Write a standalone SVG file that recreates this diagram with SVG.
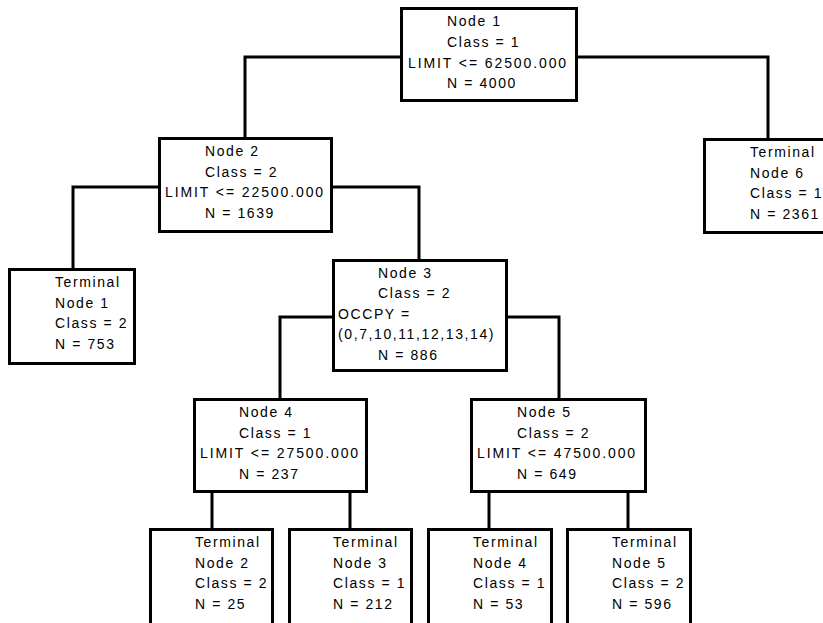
<svg xmlns="http://www.w3.org/2000/svg" width="823" height="623" viewBox="0 0 823 623">
<style>
rect.box{fill:#fff;stroke:#000;stroke-width:3}
.conn path{fill:none;stroke:#000;stroke-width:3;stroke-linejoin:miter;stroke-linecap:square}
text{font-family:"Liberation Sans",Arial,sans-serif;font-size:14px;fill:#000;letter-spacing:1.6px}
text.long{letter-spacing:1.9px}
</style>
<rect x="0" y="0" width="823" height="623" fill="#fff"/>
<g class="conn" id="connectors">
<path d="M400,57 H245 V137"/>
<path d="M578,57 H768 V138"/>
<path d="M158,187 H73 V268"/>
<path d="M333,187 H419 V259"/>
<path d="M332,317 H280 V398"/>
<path d="M508,317 H559 V398"/>
<path d="M212,493 V528"/>
<path d="M350,493 V528"/>
<path d="M489,493 V528"/>
<path d="M628,493 V528"/>
</g>
<g id="node1">
<rect class="box" x="401.5" y="8.5" width="175" height="92"/>
<text x="447" y="26">Node 1</text>
<text x="447" y="47">Class = 1</text>
<text class="long" x="408" y="68">LIMIT &lt;= 62500.000</text>
<text x="447" y="88">N = 4000</text>
</g>
<g id="node2">
<rect class="box" x="159.5" y="138.5" width="172" height="93"/>
<text x="205" y="156">Node 2</text>
<text x="205" y="177">Class = 2</text>
<text class="long" x="165" y="197">LIMIT &lt;= 22500.000</text>
<text x="205" y="218">N = 1639</text>
</g>
<g id="terminal6">
<rect class="box" x="704.5" y="139.5" width="124" height="93"/>
<text x="750" y="157">Terminal</text>
<text x="750" y="178">Node 6</text>
<text x="750" y="198">Class = 1</text>
<text x="750" y="219">N = 2361</text>
</g>
<g id="terminal1">
<rect class="box" x="9.5" y="269.5" width="125" height="94"/>
<text x="55" y="287">Terminal</text>
<text x="55" y="308">Node 1</text>
<text x="55" y="328">Class = 2</text>
<text x="55" y="349">N = 753</text>
</g>
<g id="node3">
<rect class="box" x="333.5" y="260.5" width="173" height="110"/>
<text x="378" y="278">Node 3</text>
<text x="378" y="298">Class = 2</text>
<text x="338" y="319">OCCPY =</text>
<text x="338" y="339">(0,7,10,11,12,13,14)</text>
<text x="378" y="360">N = 886</text>
</g>
<g id="node4">
<rect class="box" x="194.5" y="399.5" width="172" height="92"/>
<text x="239" y="417">Node 4</text>
<text x="239" y="438">Class = 1</text>
<text class="long" x="200" y="458">LIMIT &lt;= 27500.000</text>
<text x="239" y="479">N = 237</text>
</g>
<g id="node5">
<rect class="box" x="471.5" y="399.5" width="174" height="92"/>
<text x="517" y="417">Node 5</text>
<text x="517" y="438">Class = 2</text>
<text class="long" x="477" y="458">LIMIT &lt;= 47500.000</text>
<text x="517" y="479">N = 649</text>
</g>
<g id="terminal2">
<rect class="box" x="150.5" y="529.5" width="122" height="100"/>
<text x="195" y="547">Terminal</text>
<text x="195" y="568">Node 2</text>
<text x="195" y="588">Class = 2</text>
<text x="195" y="609">N = 25</text>
</g>
<g id="terminal3">
<rect class="box" x="289.5" y="529.5" width="122" height="100"/>
<text x="333" y="547">Terminal</text>
<text x="333" y="568">Node 3</text>
<text x="333" y="588">Class = 1</text>
<text x="333" y="609">N = 212</text>
</g>
<g id="terminal4">
<rect class="box" x="428.5" y="529.5" width="123" height="100"/>
<text x="473" y="547">Terminal</text>
<text x="473" y="568">Node 4</text>
<text x="473" y="588">Class = 1</text>
<text x="473" y="609">N = 53</text>
</g>
<g id="terminal5">
<rect class="box" x="567.5" y="529.5" width="123" height="100"/>
<text x="612" y="547">Terminal</text>
<text x="612" y="568">Node 5</text>
<text x="612" y="588">Class = 2</text>
<text x="612" y="609">N = 596</text>
</g>
</svg>
